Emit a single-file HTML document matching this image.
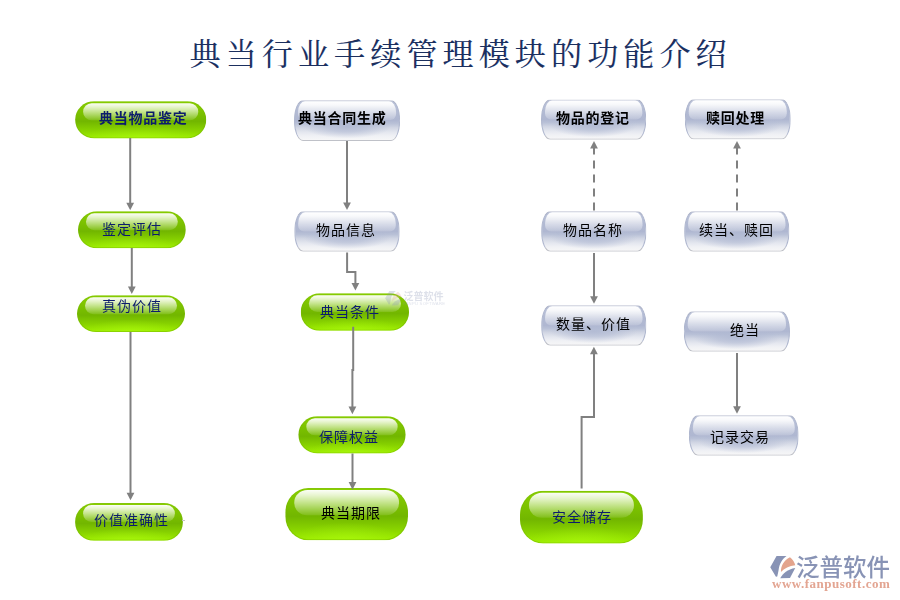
<!DOCTYPE html>
<html lang="zh-CN">
<head>
<meta charset="utf-8">
<title>典当行业手续管理模块的功能介绍</title>
<style>
html,body{margin:0;padding:0;background:#fff}
body{width:900px;height:600px;position:relative;overflow:hidden;font-family:"Liberation Sans","Noto Sans CJK SC",sans-serif}
h1{position:absolute;left:189.5px;top:30.5px;margin:0;width:600px;height:48px;line-height:48px;font:normal 31px/48px "Liberation Serif","Noto Serif CJK SC",serif;letter-spacing:5.15px;color:#1b2f5e;white-space:nowrap;text-shadow:.5px 0 .6px rgba(70,110,180,.35)}
.n{position:absolute;left:0;top:0;box-sizing:border-box;transform-origin:0 0}
.t{position:absolute;will-change:transform;height:20px;line-height:20px;font-size:14px;letter-spacing:1px;white-space:nowrap}
.n i{position:absolute;display:block}
.b{font-weight:700;letter-spacing:.75px}
.nv{color:#0c1c6c}
.bk{color:#000}
.g{border-radius:19px/18.5px;background:radial-gradient(ellipse 46% 34% at 50% 100%,rgba(176,255,16,.55) 0%,rgba(176,255,16,0) 100%),linear-gradient(180deg,#8ad000 0%,#7cc200 30%,#72b600 54%,#86d000 76%,#9eee00 100%);box-shadow:inset 0 0 0 1px rgba(120,185,0,.55)}
.g.big{border-radius:23px/24px}
.g.big i{left:9px;right:9px;height:25px;border-radius:13px/12px}
.g i{left:8px;right:8px;top:2px;height:17px;border-radius:9px;background:linear-gradient(180deg,rgba(255,255,255,.97) 0%,rgba(255,255,255,.8) 22%,rgba(255,255,255,.5) 55%,rgba(255,255,255,.1) 100%)}
.s{border-radius:9px/20px;border:1px solid #aeb6ce;border-top-color:#abb1c6;border-bottom-color:#b9bbc3;background:radial-gradient(ellipse 42% 30% at 50% 66%,rgba(175,184,210,.85) 0%,rgba(175,184,210,.6) 45%,rgba(175,184,210,0) 100%),linear-gradient(180deg,#bcc4da 0%,#b2bad3 30%,#afb7d1 50%,#b9c1d7 58%,#d0d5e3 68%,#e4e7ef 80%,#f0f1f5 90%,#f6f6f7 100%)}
.s i{left:3px;right:3px;top:0;height:19px;border-radius:7px 7px 6px 6px/11px 11px 6px 6px;background:linear-gradient(180deg,#fff 0%,rgba(255,255,255,.9) 20%,rgba(255,255,255,.55) 55%,rgba(255,255,255,.14) 100%)}
svg{position:absolute;left:0;top:0}
.cn{z-index:3}
.lg{left:770px;top:556px}
.logo{position:absolute;left:796px;top:554px;font:500 23.5px/28px "Liberation Sans","Noto Sans CJK SC",sans-serif;color:#8893b5;white-space:nowrap;will-change:transform}
.url{position:absolute;left:772px;top:575px;font:700 13px/18px "Liberation Serif",serif;color:#e3a592;letter-spacing:.5px;white-space:nowrap;will-change:transform}
.wmk{position:absolute;left:385px;top:290px;width:62px;height:16px;opacity:.28;z-index:5}
.wmk svg{left:0;top:0.5px}
.wm{position:absolute;left:18.5px;top:0px;font:700 10px/14px "Liberation Sans","Noto Sans CJK SC",sans-serif;color:#8893b5;white-space:nowrap}
.wm2{position:absolute;left:18px;top:11px;font:400 4.2px/6px "Liberation Sans",sans-serif;color:#8893b5;white-space:nowrap;letter-spacing:.25px}
</style>
</head>
<body>
<h1>典当行业手续管理模块的功能介绍</h1>
<svg class="cn" width="900" height="600" viewBox="0 0 900 600" fill="#808080" stroke="none">
<g fill="none" stroke="#808080" stroke-width="2">
<path d="M130.2 138V204.3"/>
<path d="M131.8 248V288.0"/>
<path d="M130.5 332V494.3"/>
<path d="M347 141V204.0"/>
<path d="M347.1 252.6V271.9H355.4V285"/>
<path d="M353.2 326.7V370H352.4V408"/>
<path d="M352.5 453.5V483.7"/>
<path d="M594 210.4V148" stroke-dasharray="8 6"/>
<path d="M594 253V297.8"/>
<path d="M581.6 488.4V417H594V353"/>
<path d="M737 210.4V148" stroke-dasharray="8 6"/>
<path d="M737 353V407.8"/>
</g>
<path d="M182 520.5H185" stroke="#c4c4c4" stroke-width="1" fill="none"/>
<g>
<polygon points="126.3,202.7 134.1,202.7 130.2,210.3"/>
<polygon points="127.9,286.4 135.7,286.4 131.8,294"/>
<polygon points="126.6,492.7 134.4,492.7 130.5,500.3"/>
<polygon points="343.1,202.4 350.9,202.4 347,210"/>
<polygon points="351.5,282.9 359.3,282.9 355.4,290.5"/>
<polygon points="348.5,406.6 356.3,406.6 352.4,414.2"/>
<polygon points="348.6,482.1 356.4,482.1 352.5,489.7"/>
<polygon points="590.1,148.5 597.9,148.5 594,140.9"/>
<polygon points="590.1,296.2 597.9,296.2 594,303.8"/>
<polygon points="590.0,354.3 597.8,354.3 593.9,346.7"/>
<polygon points="733.1,148.5 740.9,148.5 737,140.9"/>
<polygon points="733.1,406.2 740.9,406.2 737,413.8"/>
</g>
</svg>
<div class="n g" style="width:131px;height:37px;transform:translate(75.1px,101.2px) scale(1.0015,1.0054)"><i></i></div>
<div class="n g" style="width:108px;height:37px;transform:translate(78px,211.3px) scale(0.9981,1.0000)"><i></i></div>
<div class="n g" style="width:108px;height:37px;transform:translate(77px,295.3px) scale(1.0000,0.9946)"><i></i></div>
<div class="n g" style="width:108px;height:38px;transform:translate(75.1px,503.1px) scale(0.9981,0.9921)"><i></i></div>
<div class="n g" style="width:108px;height:38px;transform:translate(300.8px,293.3px) scale(1.0019,0.9868)"><i></i></div>
<div class="n g" style="width:107px;height:37px;transform:translate(298.3px,416.2px) scale(1.0037,1.0081)"><i></i></div>
<div class="n g big" style="width:123px;height:52px;transform:translate(285.3px,488.1px) scale(0.9976,1.0038)"><i></i></div>
<div class="n g big" style="width:123px;height:53px;transform:translate(520px,490.8px) scale(0.9992,0.9962)"><i></i></div>
<div class="n s" style="width:106px;height:41px;transform:translate(294px,100.2px) scale(1.0009,0.9927)"><i></i></div>
<div class="n s" style="width:106px;height:40px;transform:translate(294.2px,211.25px) scale(0.9958,1.0112)"><i></i></div>
<div class="n s" style="width:105px;height:40px;transform:translate(541px,99.4px) scale(1.0029,1.0075)"><i></i></div>
<div class="n s" style="width:105px;height:40px;transform:translate(541.1px,211.2px) scale(1.0038,1.0125)"><i></i></div>
<div class="n s" style="width:105px;height:40px;transform:translate(541.1px,305.2px) scale(1.0038,1.0125)"><i></i></div>
<div class="n s" style="width:106px;height:40px;transform:translate(684.75px,99.3px) scale(1.0005,1.0050)"><i></i></div>
<div class="n s" style="width:105px;height:40px;transform:translate(684.1px,211.2px) scale(1.0038,1.0125)"><i></i></div>
<div class="n s" style="width:106px;height:40px;transform:translate(683.7px,311.3px) scale(1.0028,1.0100)"><i></i></div>
<div class="n s" style="width:110px;height:40px;transform:translate(688.9px,415.2px) scale(0.9982,1.0125)"><i></i></div>
<span class="t b nv" style="left:99px;top:108px">典当物品鉴定</span>
<span class="t nv" style="left:102px;top:219px">鉴定评估</span>
<span class="t nv" style="left:102px;top:296px">真伪价值</span>
<span class="t nv" style="left:94px;top:510px">价值准确性</span>
<span class="t nv" style="left:320px;top:302px">典当条件</span>
<span class="t nv" style="left:319px;top:427px">保障权益</span>
<span class="t bk" style="left:321px;top:503px">典当期限</span>
<span class="t nv" style="left:552px;top:507px">安全储存</span>
<span class="t b bk" style="left:298px;top:108px">典当合同生成</span>
<span class="t bk" style="left:316px;top:220px">物品信息</span>
<span class="t b bk" style="left:556px;top:108px">物品的登记</span>
<span class="t bk" style="left:563px;top:220px">物品名称</span>
<span class="t bk" style="left:556px;top:314px">数量、价值</span>
<span class="t b bk" style="left:706px;top:108px">赎回处理</span>
<span class="t bk" style="left:699px;top:220px">续当、赎回</span>
<span class="t bk" style="left:730px;top:320px">绝当</span>
<span class="t bk" style="left:710px;top:427px">记录交易</span>
<div class="wmk">
<svg width="17" height="15" viewBox="0 0 25.5 23">
<path d="M6.3 0H16.3C12 3 9.2 8 8.5 13C8 16 7.5 18.4 7 20.5L5.7 20.7L0 11.3Z" fill="#8893b5"/>
<path d="M19.7 1.3C22.5 3.5 24.5 6.5 25 9.3C19 10 14 12.5 10.7 16C10.5 10 13.5 4.5 19.7 1.3Z" fill="#e3a48d"/>
<path d="M25 12L19.7 22L10 22.3C12.5 17.5 17.5 13.3 25 12Z" fill="#8893b5"/>
</svg>
<div class="wm">泛普软件</div>
<div class="wm2">FANPU SOFTWARE</div>
</div>
<svg class="lg" width="26" height="23" viewBox="0 0 25.5 23">
<path d="M6.3 0H16.3C12 3 9.2 8 8.5 13C8 16 7.5 18.4 7 20.5L5.7 20.7L0 11.3Z" fill="#8893b5"/>
<path d="M19.7 1.3C22.5 3.5 24.5 6.5 25 9.3C19 10 14 12.5 10.7 16C10.5 10 13.5 4.5 19.7 1.3Z" fill="#e3a48d"/>
<path d="M25 12L19.7 22L10 22.3C12.5 17.5 17.5 13.3 25 12Z" fill="#8893b5"/>
</svg>
<div class="logo">泛普软件</div>
<div class="url">www.fanpusoft.com</div>
</body>
</html>
